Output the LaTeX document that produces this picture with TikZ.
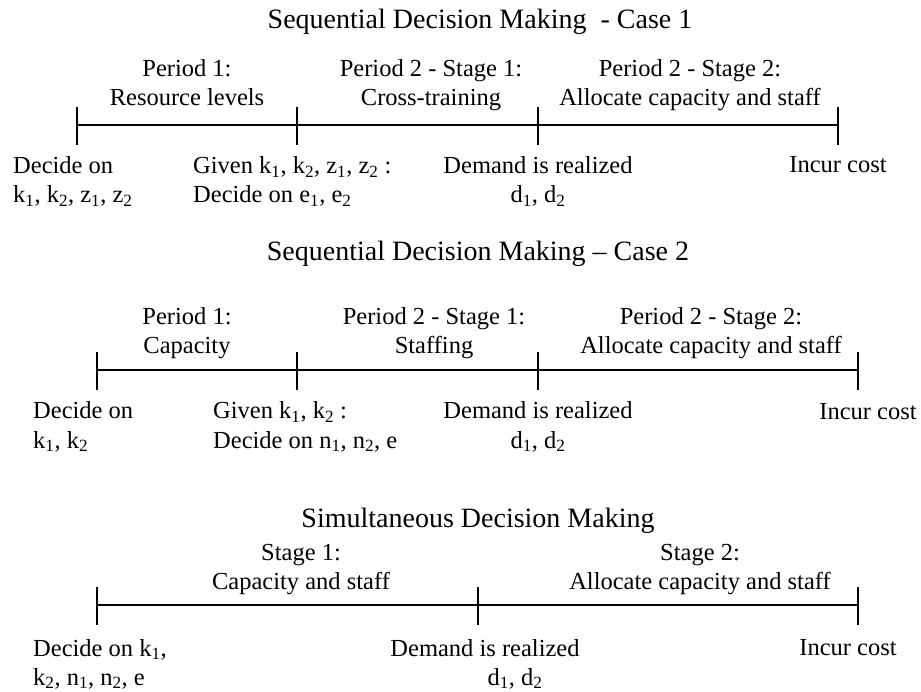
\documentclass[tikz,border=0pt]{standalone}
\usepackage{fontspec}
\setmainfont{Liberation Serif}
\usetikzlibrary{positioning}

\begin{document}
\begin{tikzpicture}[x=1pt, y=-1pt,
		every node/.style={inner sep=0pt, font=\fontsize{24.5}{29}\selectfont},
		heading/.style={font=\fontsize{28}{32}\selectfont, anchor=base},
		phase/.style={align=center, anchor=base},
		event/.style={align=left, anchor=base west},
		timeline/.style={line width=1.5pt}]
		\useasboundingbox (0,0) rectangle (921,692);

		% Case 1
		\node[heading] (title1) at (480,29) {Sequential Decision Making \ - Case 1};
		\coordinate (a1) at (77,125);
		\coordinate (a2) at (297,125);
		\coordinate (a3) at (538,125);
		\coordinate (a4) at (838,125);
		\draw[timeline] (a1) -- (a4);
		\foreach \t in {a1,a2,a3,a4}
			\draw[timeline] ([yshift=18pt]\t) -- ([yshift=-20pt]\t);
		\node[phase] (res) at (187,106) {Period 1:\\Resource levels};
		\node[phase] (cross) at (431,106) {Period 2 - Stage 1:\\Cross-training};
		\node[phase] (alloc1) at (690,106) {Period 2 - Stage 2:\\Allocate capacity and staff};
		\node[event] (dec1) at (13,203) {Decide on\\k\textsubscript{1}, k\textsubscript{2}, z\textsubscript{1}, z\textsubscript{2}};
		\node[event] (given1) at (193,203) {Given k\textsubscript{1}, k\textsubscript{2}, z\textsubscript{1}, z\textsubscript{2} :\\Decide on e\textsubscript{1}, e\textsubscript{2}};
		\node[phase] (dem1) at (538,203) {Demand is realized\\d\textsubscript{1}, d\textsubscript{2}};
		\node[phase] (cost1) at (838,173) {Incur cost};

		% Case 2
		\node[heading] (title2) at (478,261) {Sequential Decision Making -- Case 2};
		\coordinate (b1) at (97,370);
		\coordinate (b2) at (297,370);
		\coordinate (b3) at (538,370);
		\coordinate (b4) at (858,370);
		\draw[timeline] (b1) -- (b4);
		\foreach \t in {b1,b2,b3,b4}
			\draw[timeline] ([yshift=18pt]\t) -- ([yshift=-20pt]\t);
		\node[phase] (cap2) at (187,354) {Period 1:\\Capacity};
		\node[phase] (staff2) at (434,354) {Period 2 - Stage 1:\\Staffing};
		\node[phase] (alloc2) at (711,354) {Period 2 - Stage 2:\\Allocate capacity and staff};
		\node[event] (dec2) at (33,448) {Decide on\\k\textsubscript{1}, k\textsubscript{2}};
		\node[event] (given2) at (213,448) {Given k\textsubscript{1}, k\textsubscript{2} :\\Decide on n\textsubscript{1}, n\textsubscript{2}, e};
		\node[phase] (dem2) at (538,448) {Demand is realized\\d\textsubscript{1}, d\textsubscript{2}};
		\node[phase] (cost2) at (868,420) {Incur cost};

		% Simultaneous
		\node[heading] (title3) at (478,527) {Simultaneous Decision Making};
		\coordinate (c1) at (97,605);
		\coordinate (c2) at (478,605);
		\coordinate (c3) at (858,605);
		\draw[timeline] (c1) -- (c3);
		\foreach \t in {c1,c2,c3}
			\draw[timeline] ([yshift=18pt]\t) -- ([yshift=-20pt]\t);
		\node[phase] (cap3) at (301,589) {Stage 1:\\Capacity and staff};
		\node[phase] (alloc3) at (700,589) {Stage 2:\\Allocate capacity and staff};
		\node[event] (dec3) at (33,685) {Decide on k\textsubscript{1},\\k\textsubscript{2}, n\textsubscript{1}, n\textsubscript{2}, e};
		\node[phase] (dem3) at (485,685) {Demand is realized\\\hspace*{60pt}d\textsubscript{1}, d\textsubscript{2}};
		\node[phase] (cost3) at (848,655) {Incur cost};
	\end{tikzpicture}
\end{document}
